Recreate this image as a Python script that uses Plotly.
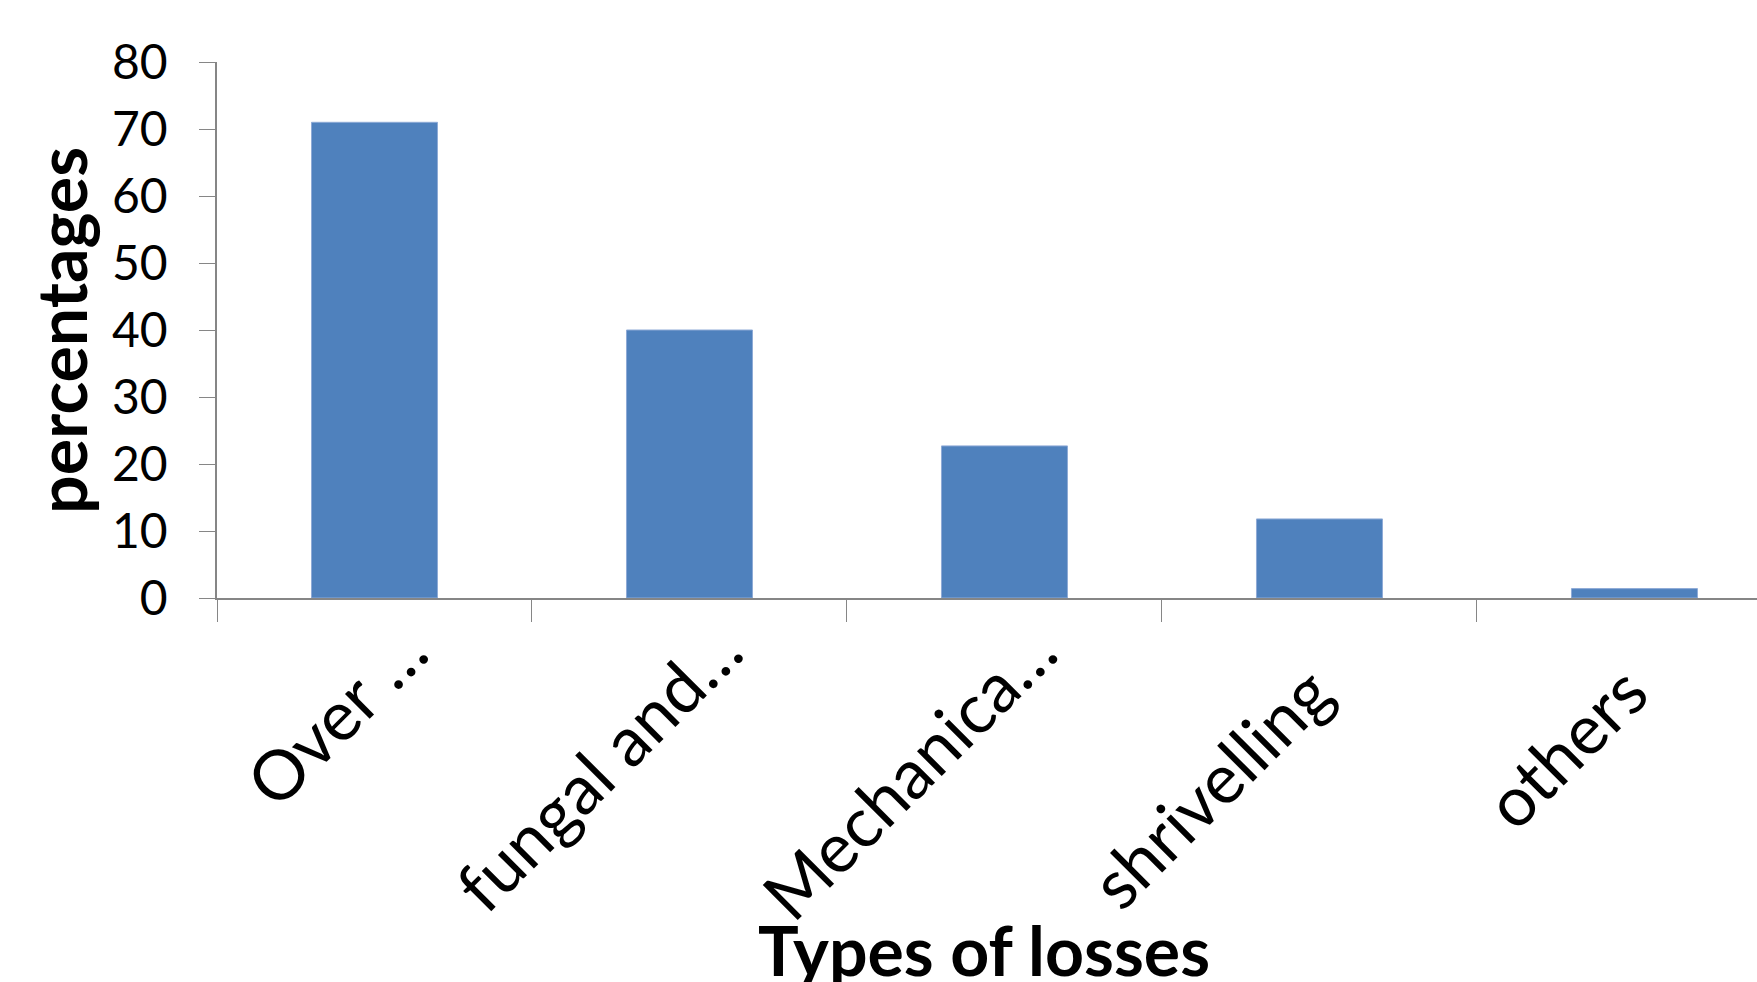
import plotly.graph_objects as go

# Post-harvest loss categories and their share (%)
categories = ["Over …", "fungal and…", "Mechanica…", "shrivelling", "others"]
percentages = [71.0, 40.0, 22.7, 11.8, 1.4]
y_ticks = [0, 10, 20, 30, 40, 50, 60, 70, 80]

AXIS_GREY = "#868686"
BAR_BLUE = "#4F81BD"
LABEL_SIZE = 69

fig = go.Figure(
    go.Bar(
        x=categories,
        y=percentages,
        marker=dict(color=BAR_BLUE, line=dict(color="#8EAAD6", width=1)),
        width=0.4,
        hoverinfo="x+y",
    )
)

fig.update_layout(
    width=1757,
    height=982,
    margin=dict(l=217, r=0, t=62, b=384),
    paper_bgcolor="white",
    plot_bgcolor="white",
    showlegend=False,
    font=dict(family="Lato", color="black"),
)

fig.update_xaxes(
    type="category",
    range=[-0.5, 4.389],
    showline=True,
    linecolor=AXIS_GREY,
    linewidth=1.5,
    ticks="outside",
    tickson="boundaries",
    ticklen=22,
    tickwidth=1.3,
    tickcolor=AXIS_GREY,
    showticklabels=False,
    showgrid=False,
    zeroline=False,
    automargin=False,
)

fig.update_yaxes(
    range=[0, 80],
    tickvals=y_ticks,
    showline=True,
    linecolor=AXIS_GREY,
    linewidth=1.5,
    ticks="outside",
    ticklen=16,
    tickwidth=1.3,
    tickcolor=AXIS_GREY,
    tickfont=dict(family="Lato", size=48, color="black"),
    ticklabelstandoff=22,
    showgrid=False,
    zeroline=False,
    automargin=False,
)

# Slanted category labels, right end hung just below each category
for cat in categories:
    truncated = cat.endswith("…")
    fig.add_annotation(
        text=cat,
        x=cat, xref="x",
        y=0, yref="y",
        xanchor="right", yanchor="top",
        xshift=69 if truncated else 30,
        yshift=-9 if truncated else -50,
        textangle=-45,
        showarrow=False,
        borderpad=0,
        font=dict(family="Lato", size=LABEL_SIZE, color="black"),
    )

# Axis titles
fig.add_annotation(
    text="<b>percentages</b>",
    xref="paper", yref="paper",
    x=-0.102, y=0.5,
    xanchor="center", yanchor="middle",
    textangle=-90,
    showarrow=False,
    font=dict(family="Lato", size=68, color="black"),
)
fig.add_annotation(
    text="<b>Types of losses</b>",
    xref="paper", yref="paper",
    x=0.498, y=-0.656,
    xanchor="center", yanchor="middle",
    showarrow=False,
    font=dict(family="Lato", size=68, color="black"),
)

fig.write_html("out.html")
